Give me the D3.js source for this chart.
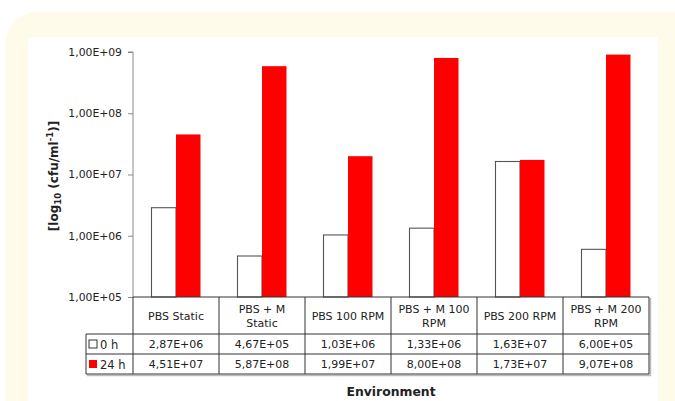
<!DOCTYPE html>
<html>
<head>
<meta charset="utf-8">
<script src="https://cdn.jsdelivr.net/npm/d3@7"></script>
<style>
  html, body { margin: 0; padding: 0; background: #ffffff; }
  svg { display: block; }
</style>
</head>
<body>
<svg id="chart" width="675" height="401"></svg>
<script>
// Bacterial counts per environment, before (0 h) and after (24 h) incubation
const environments = ["PBS Static", "PBS +  M Static", "PBS 100 RPM", "PBS + M 100 RPM", "PBS 200 RPM", "PBS + M 200 RPM"];
const envLines = [["PBS Static"], ["PBS +  M", "Static"], ["PBS 100 RPM"], ["PBS + M 100", "RPM"], ["PBS 200 RPM"], ["PBS + M 200", "RPM"]];
const seriesNames = ["0 h", "24 h"];
const values0h = [2.87e6, 4.67e5, 1.03e6, 1.33e6, 1.63e7, 6.00e5];
const values24h = [4.51e7, 5.87e8, 1.99e7, 8.00e8, 1.73e7, 9.07e8];
const tableText0h = ["2,87E+06", "4,67E+05", "1,03E+06", "1,33E+06", "1,63E+07", "6,00E+05"];
const tableText24h = ["4,51E+07", "5,87E+08", "1,99E+07", "8,00E+08", "1,73E+07", "9,07E+08"];
const yTicks = [1e5, 1e6, 1e7, 1e8, 1e9];
const yTickLabels = ["1,00E+05", "1,00E+06", "1,00E+07", "1,00E+08", "1,00E+09"];

const svg = d3.select("#chart");
const font = "'DejaVu Sans', Verdana, sans-serif";
const textColor = "#222";

// Cream rounded frame behind the white chart area
svg.append("rect").attr("x", 5).attr("y", 12).attr("width", 700).attr("height", 450)
  .attr("rx", 32).attr("fill", "#fffbea");
svg.append("rect").attr("x", 28).attr("y", 37).attr("width", 630).attr("height", 400)
  .attr("fill", "#ffffff");

const plot = { left: 133, right: 649, top: 52, bottom: 297 };

const x = d3.scaleBand().domain(environments).range([plot.left, plot.right]).paddingInner(0).paddingOuter(0);
const xSub = d3.scaleBand().domain(seriesNames).range([0, x.bandwidth()]).paddingInner(0).paddingOuter(0.755);
const y = d3.scaleLog().domain([1e5, 1e9]).range([plot.bottom, plot.top]);

// Y axis
const yAxis = d3.axisLeft(y).tickValues(yTicks)
  .tickFormat((d, i) => yTickLabels[i]).tickSize(5).tickPadding(6);
const gy = svg.append("g").attr("transform", `translate(${plot.left},0)`).call(yAxis);
gy.select(".domain").attr("stroke", "#8a8a8a").attr("d", `M-5,${plot.top}H0V${plot.bottom}`);
gy.selectAll(".tick line").attr("stroke", "#8a8a8a");
gy.selectAll(".tick text").attr("font-family", font).attr("font-size", 10.8).attr("fill", textColor);

// Bars
const groups = svg.append("g").selectAll("g").data(environments).join("g")
  .attr("transform", d => `translate(${x(d)},0)`);
const barData = (d, i) => [
  { s: "0 h", v: values0h[i] },
  { s: "24 h", v: values24h[i] }
];
groups.selectAll("rect").data((d, i) => barData(d, i)).join("rect")
  .attr("x", b => xSub(b.s))
  .attr("width", xSub.bandwidth())
  .attr("y", b => y(b.v))
  .attr("height", b => plot.bottom - y(b.v))
  .attr("fill", b => b.s === "0 h" ? "#ffffff" : "#ff0000")
  .attr("stroke", b => b.s === "0 h" ? "#555" : "none")
  .attr("stroke-width", 1.1);

// Data table below the plot
const rowTop = plot.bottom, catBottom = 334, row1Bottom = 354, row2Bottom = 374, legendLeft = 86;
const lineColor = "#333";
const tbl = svg.append("g").attr("stroke", lineColor).attr("stroke-width", 1).attr("fill", "none");
// soft shadow on right/bottom edges
tbl.append("path").attr("d", `M${plot.right + 1.5},${rowTop + 1}V${row2Bottom + 1.5}H${legendLeft + 1}`)
  .attr("stroke", "#bbb").attr("stroke-width", 1.5);
tbl.append("line").attr("x1", plot.left).attr("x2", plot.right).attr("y1", rowTop).attr("y2", rowTop);
[catBottom, row1Bottom, row2Bottom].forEach(yy =>
  tbl.append("line").attr("x1", legendLeft).attr("x2", plot.right).attr("y1", yy).attr("y2", yy));
tbl.append("line").attr("x1", legendLeft).attr("x2", legendLeft).attr("y1", catBottom).attr("y2", row2Bottom);
environments.forEach(e =>
  tbl.append("line").attr("x1", x(e)).attr("x2", x(e)).attr("y1", rowTop).attr("y2", row2Bottom));
tbl.append("line").attr("x1", plot.right).attr("x2", plot.right).attr("y1", rowTop).attr("y2", row2Bottom);

const tableFont = 11;
// category labels
envLines.forEach((lines, i) => {
  const cx = x(environments[i]) + x.bandwidth() / 2;
  const cy = (rowTop + catBottom) / 2;
  const lh = 14;
  const t = svg.append("text").attr("font-family", font).attr("font-size", tableFont)
    .attr("fill", textColor).attr("text-anchor", "middle");
  lines.forEach((ln, j) => {
    t.append("tspan").attr("x", cx)
      .attr("y", cy + (j - (lines.length - 1) / 2) * lh + 4).text(ln);
  });
});
// value rows
[[tableText0h, row1Bottom], [tableText24h, row2Bottom]].forEach(([texts, bottom]) => {
  texts.forEach((tx, i) => {
    svg.append("text").attr("font-family", font).attr("font-size", tableFont)
      .attr("fill", textColor).attr("text-anchor", "middle")
      .attr("x", x(environments[i]) + x.bandwidth() / 2).attr("y", bottom - 6).text(tx);
  });
});
// legend keys in the first column
seriesNames.forEach((s, i) => {
  const bottom = i === 0 ? row1Bottom : row2Bottom;
  const top = i === 0 ? catBottom : row1Bottom;
  const mid = (top + bottom) / 2;
  svg.append("rect").attr("x", 89).attr("y", mid - 4).attr("width", 8).attr("height", 8)
    .attr("fill", i === 0 ? "#ffffff" : "#ff0000")
    .attr("stroke", i === 0 ? "#333" : "none").attr("stroke-width", 1);
  svg.append("text").attr("font-family", font).attr("font-size", 11.5).attr("fill", textColor)
    .attr("x", 100).attr("y", mid + 4.5).text(s);
});

// Axis titles
svg.append("text").attr("font-family", font).attr("font-size", 12.4).attr("font-weight", "bold")
  .attr("fill", textColor).attr("text-anchor", "middle")
  .attr("x", (plot.left + plot.right) / 2).attr("y", 396).text("Environment");

const yt = svg.append("text").attr("font-family", font).attr("font-size", 12).attr("font-weight", "bold")
  .attr("fill", textColor).attr("text-anchor", "middle")
  .attr("transform", "translate(58,176) rotate(-90)");
yt.append("tspan").text("[log");
yt.append("tspan").attr("font-size", 8.5).attr("dy", 3).text("10");
yt.append("tspan").attr("dy", -3).text(" (cfu/ml");
yt.append("tspan").attr("font-size", 8.5).attr("dy", -5).text("-1");
yt.append("tspan").attr("dy", 5).text(")]");
</script>
</body>
</html>
